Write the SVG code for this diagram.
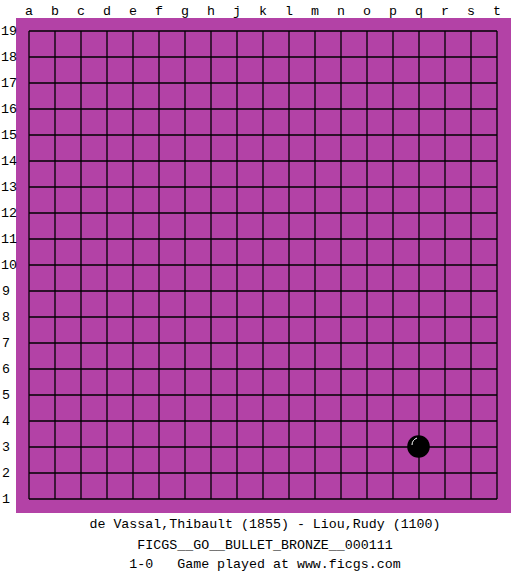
<svg xmlns="http://www.w3.org/2000/svg" width="525" height="575" viewBox="0 0 525 575">
<style>
text{font-family:"Liberation Mono","DejaVu Sans Mono",monospace;font-size:13.3px;fill:#000;white-space:pre}
.c{text-anchor:middle}
.g{stroke:#000;stroke-width:1.3;fill:none}
</style>
<rect width="525" height="575" fill="#fff"/>
<g id="board">
<rect x="16" y="18" width="495" height="495" fill="#B342A6"/>
<path class="g" d="M29,31V499M55,31V499M81,31V499M107,31V499M133,31V499M159,31V499M185,31V499M211,31V499M237,31V499M263,31V499M289,31V499M315,31V499M341,31V499M367,31V499M393,31V499M419,31V499M445,31V499M471,31V499M497,31V499M29,31H497M29,57H497M29,83H497M29,109H497M29,135H497M29,161H497M29,187H497M29,213H497M29,239H497M29,265H497M29,291H497M29,317H497M29,343H497M29,369H497M29,395H497M29,421H497M29,447H497M29,473H497M29,499H497"/>
</g>
<g id="cols" class="c">
<text x="29" y="15">a</text><text x="55" y="15">b</text><text x="81" y="15">c</text><text x="107" y="15">d</text><text x="133" y="15">e</text><text x="159" y="15">f</text><text x="185" y="15">g</text><text x="211" y="15">h</text><text x="237" y="15">j</text><text x="263" y="15">k</text><text x="289" y="15">l</text><text x="315" y="15">m</text><text x="341" y="15">n</text><text x="367" y="15">o</text><text x="393" y="15">p</text><text x="419" y="15">q</text><text x="445" y="15">r</text><text x="471" y="15">s</text><text x="497" y="15">t</text>
</g>
<g id="rows">
<text x="1" y="35">19</text><text x="1" y="61">18</text><text x="1" y="87">17</text><text x="1" y="113">16</text><text x="1" y="139">15</text><text x="1" y="165">14</text><text x="1" y="191">13</text><text x="1" y="217">12</text><text x="1" y="243">11</text><text x="1" y="269">10</text><text x="2" y="295">9</text><text x="2" y="321">8</text><text x="2" y="347">7</text><text x="2" y="373">6</text><text x="2" y="399">5</text><text x="2" y="425">4</text><text x="2" y="451">3</text><text x="2" y="477">2</text><text x="2" y="503">1</text>
</g>
<g id="stone-q3">
<circle cx="418.5" cy="446.5" r="11.3" fill="#000"/>
<path d="M412,445 Q412,440 417,438" stroke="#fff" stroke-width="1" fill="none"/>
</g>
<g id="caption" class="c">
<text x="265" y="528">de Vassal,Thibault (1855) - Liou,Rudy (1100)</text>
<text x="265" y="549">FICGS__GO__BULLET_BRONZE__000111</text>
<text x="265" y="568" xml:space="preserve">1-0   Game played at www.ficgs.com</text>
</g>
</svg>
